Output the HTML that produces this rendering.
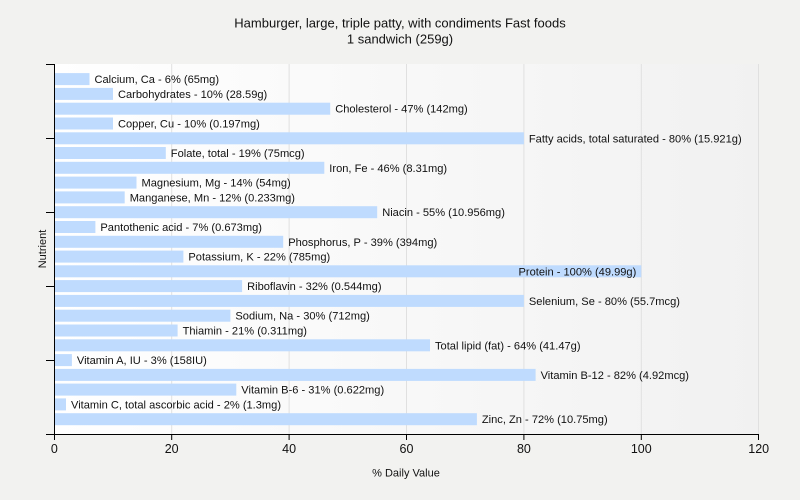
<!DOCTYPE html>
<html>
<head>
<meta charset="utf-8">
<style>
  html, body { margin: 0; padding: 0; background: #f2f2f0; }
  svg { display: block; }
  text { font-family: "Liberation Sans", Arial, sans-serif; fill: #111; }
</style>
</head>
<body>
<svg width="800" height="500" viewBox="0 0 800 500" xmlns="http://www.w3.org/2000/svg">
  <defs>
    <linearGradient id="pg" x1="0" y1="0" x2="1" y2="0">
      <stop offset="0" stop-color="#ffffff"/>
      <stop offset="1" stop-color="#f1f1f1"/>
    </linearGradient>
  </defs>
  <rect x="0" y="0" width="800" height="500" fill="#f2f2f0"/>
  <!-- plot area -->
  <rect x="54" y="64" width="705" height="370" fill="url(#pg)"/>
  <!-- gridlines -->
  <g stroke="#e0e0e0" stroke-width="1">
    <line x1="171.7" y1="64" x2="171.7" y2="434"/>
    <line x1="289.1" y1="64" x2="289.1" y2="434"/>
    <line x1="406.5" y1="64" x2="406.5" y2="434"/>
    <line x1="523.9" y1="64" x2="523.9" y2="434"/>
    <line x1="641.3" y1="64" x2="641.3" y2="434"/>
    <line x1="758.5" y1="64" x2="758.5" y2="434"/>
  </g>

  <!-- title -->
  <text x="400" y="27.5" font-size="13" text-anchor="middle">Hamburger, large, triple patty, with condiments Fast foods</text>
  <text x="400" y="43.3" font-size="13" text-anchor="middle">1 sandwich (259g)</text>

  <!-- bars -->
  <g fill="#bfdbfe">
    <rect x="54.3" y="73.1" width="35.2" height="12"/>
    <rect x="54.3" y="87.9" width="58.7" height="12"/>
    <rect x="54.3" y="102.7" width="275.9" height="12"/>
    <rect x="54.3" y="117.5" width="58.7" height="12"/>
    <rect x="54.3" y="132.3" width="469.6" height="12"/>
    <rect x="54.3" y="147.0" width="111.5" height="12"/>
    <rect x="54.3" y="161.8" width="270.0" height="12"/>
    <rect x="54.3" y="176.6" width="82.2" height="12"/>
    <rect x="54.3" y="191.4" width="70.4" height="12"/>
    <rect x="54.3" y="206.2" width="322.9" height="12"/>
    <rect x="54.3" y="221.0" width="41.1" height="12"/>
    <rect x="54.3" y="235.8" width="228.9" height="12"/>
    <rect x="54.3" y="250.6" width="129.1" height="12"/>
    <rect x="54.3" y="265.3" width="587.0" height="12"/>
    <rect x="54.3" y="280.1" width="187.8" height="12"/>
    <rect x="54.3" y="294.9" width="469.6" height="12"/>
    <rect x="54.3" y="309.7" width="176.1" height="12"/>
    <rect x="54.3" y="324.5" width="123.3" height="12"/>
    <rect x="54.3" y="339.3" width="375.7" height="12"/>
    <rect x="54.3" y="354.1" width="17.6" height="12"/>
    <rect x="54.3" y="368.9" width="481.3" height="12"/>
    <rect x="54.3" y="383.6" width="182.0" height="12"/>
    <rect x="54.3" y="398.4" width="11.7" height="12"/>
    <rect x="54.3" y="413.2" width="422.6" height="12"/>
  </g>

  <!-- bar labels -->
  <g font-size="11.1">
    <text x="94.5" y="83.1">Calcium, Ca - 6% (65mg)</text>
    <text x="118.0" y="97.9">Carbohydrates - 10% (28.59g)</text>
    <text x="335.2" y="112.7">Cholesterol - 47% (142mg)</text>
    <text x="118.0" y="127.5">Copper, Cu - 10% (0.197mg)</text>
    <text x="528.9" y="142.3">Fatty acids, total saturated - 80% (15.921g)</text>
    <text x="170.8" y="157.0">Folate, total - 19% (75mcg)</text>
    <text x="329.3" y="171.8">Iron, Fe - 46% (8.31mg)</text>
    <text x="141.5" y="186.6">Magnesium, Mg - 14% (54mg)</text>
    <text x="129.7" y="201.4">Manganese, Mn - 12% (0.233mg)</text>
    <text x="382.2" y="216.2">Niacin - 55% (10.956mg)</text>
    <text x="100.4" y="231.0">Pantothenic acid - 7% (0.673mg)</text>
    <text x="288.2" y="245.8">Phosphorus, P - 39% (394mg)</text>
    <text x="188.4" y="260.6">Potassium, K - 22% (785mg)</text>
    <text x="636.3" y="275.3" text-anchor="end">Protein - 100% (49.99g)</text>
    <text x="247.1" y="290.1">Riboflavin - 32% (0.544mg)</text>
    <text x="528.9" y="304.9">Selenium, Se - 80% (55.7mcg)</text>
    <text x="235.4" y="319.7">Sodium, Na - 30% (712mg)</text>
    <text x="182.6" y="334.5">Thiamin - 21% (0.311mg)</text>
    <text x="435.0" y="349.3">Total lipid (fat) - 64% (41.47g)</text>
    <text x="76.9" y="364.1">Vitamin A, IU - 3% (158IU)</text>
    <text x="540.6" y="378.9">Vitamin B-12 - 82% (4.92mcg)</text>
    <text x="241.3" y="393.6">Vitamin B-6 - 31% (0.622mg)</text>
    <text x="71.0" y="408.4">Vitamin C, total ascorbic acid - 2% (1.3mg)</text>
    <text x="481.9" y="423.2">Zinc, Zn - 72% (10.75mg)</text>
  </g>

  <!-- axes -->
  <g stroke="#000" stroke-width="1">
    <line x1="54.5" y1="64" x2="54.5" y2="434.5"/>
    <line x1="54" y1="434.5" x2="759" y2="434.5"/>
    <!-- left ticks -->
    <line x1="46" y1="64.5" x2="54" y2="64.5"/>
    <line x1="46" y1="138.5" x2="54" y2="138.5"/>
    <line x1="46" y1="212.5" x2="54" y2="212.5"/>
    <line x1="46" y1="286.5" x2="54" y2="286.5"/>
    <line x1="46" y1="360.5" x2="54" y2="360.5"/>
    <line x1="46" y1="434.5" x2="54" y2="434.5"/>
    <!-- bottom ticks -->
    <line x1="54.5" y1="434" x2="54.5" y2="440"/>
    <line x1="171.7" y1="434" x2="171.7" y2="440"/>
    <line x1="289.1" y1="434" x2="289.1" y2="440"/>
    <line x1="406.5" y1="434" x2="406.5" y2="440"/>
    <line x1="523.9" y1="434" x2="523.9" y2="440"/>
    <line x1="641.3" y1="434" x2="641.3" y2="440"/>
    <line x1="758.5" y1="434" x2="758.5" y2="440"/>
  </g>

  <!-- tick labels -->
  <g font-size="12.5" text-anchor="middle">
    <text x="54.3" y="453">0</text>
    <text x="171.7" y="453">20</text>
    <text x="289.1" y="453">40</text>
    <text x="406.5" y="453">60</text>
    <text x="523.9" y="453">80</text>
    <text x="641.3" y="453">100</text>
    <text x="758.7" y="453">120</text>
  </g>

  <!-- axis titles -->
  <text x="406" y="476.5" font-size="11" text-anchor="middle">% Daily Value</text>
  <text x="0" y="0" font-size="11" text-anchor="middle" transform="translate(46,249) rotate(-90)">Nutrient</text>
</svg>
</body>
</html>
